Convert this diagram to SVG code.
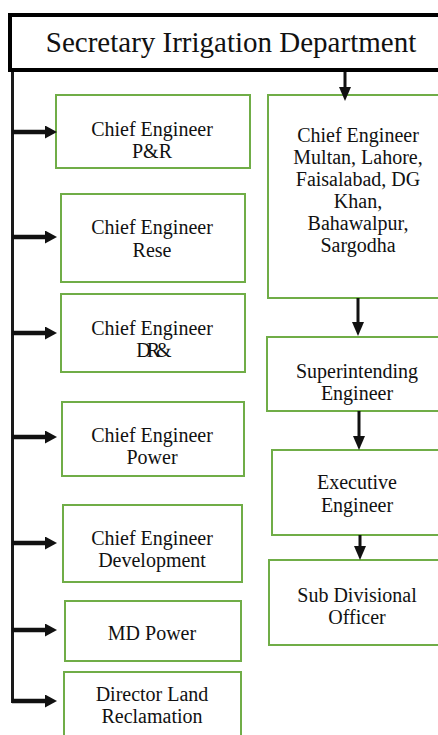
<svg xmlns="http://www.w3.org/2000/svg" width="438" height="735" viewBox="0 0 438 735">
<style>
.box{fill:#fff;stroke:#70AD47;stroke-width:2}
.t{font-family:'Liberation Serif',Tinos,'Times New Roman','DejaVu Serif',serif;font-size:20px;fill:#111;text-anchor:middle}
.title{font-family:'Liberation Serif',Tinos,'Times New Roman','DejaVu Serif',serif;font-size:29px;fill:#111;text-anchor:middle}
.h{stroke:#111;stroke-width:4.5;fill:none}
.v{stroke:#111;stroke-width:3;fill:none}
</style>
<defs>
<marker id="ahR" markerWidth="12" markerHeight="13" refX="0" refY="6.5" orient="auto" markerUnits="userSpaceOnUse"><path d="M0,0 L12,6.5 L0,13 Z" fill="#111"/></marker>
<marker id="ahD" markerWidth="14" markerHeight="12" refX="0" refY="6" orient="auto" markerUnits="userSpaceOnUse"><path d="M0,0 L14,6 L0,12 Z" fill="#111"/></marker>
</defs>
<rect width="438" height="735" fill="#fff"/>
<g id="secretary">
<rect x="10" y="15" width="440" height="55" fill="#fff" stroke="#000" stroke-width="4"/>
<text class="title" x="231" y="52">Secretary Irrigation Department</text>
</g>
<g id="ce-pr"><rect class="box" x="56" y="95" width="194" height="73"/><text class="t" x="152" y="136">Chief Engineer</text><text class="t" x="152" y="158">P&amp;R</text></g>
<g id="ce-rese"><rect class="box" x="61" y="194" width="184" height="88"/><text class="t" x="152" y="234">Chief Engineer</text><text class="t" x="152" y="257">Rese</text></g>
<g id="ce-dr"><rect class="box" x="61" y="294" width="184" height="78"/><text class="t" x="152" y="335">Chief Engineer</text><text class="t" x="152" y="357" letter-spacing="-4">DR&amp;</text></g>
<g id="ce-power"><rect class="box" x="62" y="402" width="182" height="74"/><text class="t" x="152" y="442">Chief Engineer</text><text class="t" x="152" y="464">Power</text></g>
<g id="ce-dev"><rect class="box" x="63" y="505" width="179" height="77"/><text class="t" x="152" y="545">Chief Engineer</text><text class="t" x="152" y="567">Development</text></g>
<g id="md-power"><rect class="box" x="65" y="601" width="176" height="60"/><text class="t" x="152" y="640">MD Power</text></g>
<g id="dir-land"><rect class="box" x="64" y="672" width="177" height="75"/><text class="t" x="152" y="701">Director Land</text><text class="t" x="152" y="723">Reclamation</text></g>
<g id="ce-multan"><rect class="box" x="268" y="95" width="177" height="203"/>
<text class="t" x="358" y="142">Chief Engineer</text><text class="t" x="358" y="164">Multan, Lahore,</text><text class="t" x="358" y="186">Faisalabad, DG</text><text class="t" x="358" y="208">Khan,</text><text class="t" x="358" y="230">Bahawalpur,</text><text class="t" x="358" y="252">Sargodha</text></g>
<g id="se"><rect class="box" x="267" y="337" width="178" height="74"/><text class="t" x="357" y="378">Superintending</text><text class="t" x="357" y="400">Engineer</text></g>
<g id="xen"><rect class="box" x="272" y="450" width="173" height="85"/><text class="t" x="357" y="489">Executive</text><text class="t" x="357" y="512">Engineer</text></g>
<g id="sdo"><rect class="box" x="269" y="560" width="176" height="85"/><text class="t" x="357" y="602">Sub Divisional</text><text class="t" x="357" y="624">Officer</text></g>
<g id="connectors">
<line x1="12.5" y1="72" x2="12.5" y2="703" stroke="#1a1a1a" stroke-width="3"/>
<line class="h" x1="12" y1="132" x2="45" y2="132" marker-end="url(#ahR)"/>
<line class="h" x1="12" y1="237" x2="45" y2="237" marker-end="url(#ahR)"/>
<line class="h" x1="12" y1="333" x2="45" y2="333" marker-end="url(#ahR)"/>
<line class="h" x1="12" y1="437" x2="45" y2="437" marker-end="url(#ahR)"/>
<line class="h" x1="12" y1="543" x2="45" y2="543" marker-end="url(#ahR)"/>
<line class="h" x1="12" y1="630" x2="45" y2="630" marker-end="url(#ahR)"/>
<line class="h" x1="12" y1="701" x2="45" y2="701" marker-end="url(#ahR)"/>
<line class="v" x1="345" y1="72" x2="345" y2="87" marker-end="url(#ahD)"/>
<line class="v" x1="358" y1="298" x2="358" y2="322" marker-end="url(#ahD)"/>
<line class="v" x1="359" y1="411" x2="359" y2="436" marker-end="url(#ahD)"/>
<line class="v" x1="360" y1="535" x2="360" y2="546" marker-end="url(#ahD)"/>
</g>
</svg>
